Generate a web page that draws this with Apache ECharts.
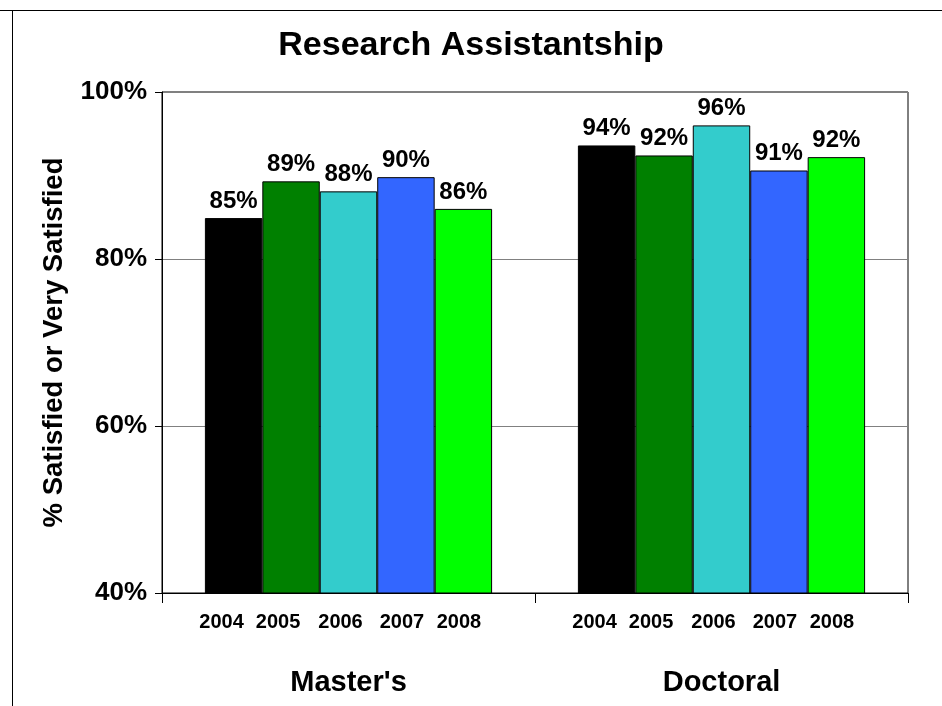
<!DOCTYPE html>
<html>
<head>
<meta charset="utf-8">
<style>html,body{margin:0;padding:0;background:#fff}#chart{width:942px;height:706px}</style>
<script src="https://cdn.jsdelivr.net/npm/echarts@6/dist/echarts.min.js"></script>
</head>
<body>
<div id="chart"></div>
<script>
var categories = ["Master's", "Doctoral"];
var years = ["2004", "2005", "2006", "2007", "2008"];
var values2004 = [84.9, 93.6];
var values2005 = [89.3, 92.4];
var values2006 = [88.1, 96.0];
var values2007 = [89.8, 90.6];
var values2008 = [86.0, 92.2];
var yTicks = [40, 60, 80, 100];
var colors = ['#000000', '#008000', '#33CCCC', '#3366FF', '#00FF00'];
var seriesValues = [values2004, values2005, values2006, values2007, values2008];
// style: horizontal nudge of the year labels under each bar (as in the original layout)
var yearLabelShift = [-12, -13, -8, -4, -4.5];

var FONT = '"Liberation Sans", Arial, sans-serif';
var chart = echarts.init(document.getElementById('chart'));

var series = years.map(function (yr, i) {
  return {
    name: yr,
    type: 'bar',
    data: seriesValues[i],
    barGap: '0%',
    barCategoryGap: '23%',
    itemStyle: { color: colors[i], borderColor: '#000', borderWidth: 1 },
    label: {
      show: true, position: 'top', distance: 5,
      fontFamily: FONT, fontWeight: 'bold', fontSize: 24, color: '#000',
      formatter: function (p) { return Math.round(p.value) + '%'; }
    },
    markPoint: {
      symbol: 'rect', symbolSize: 0,
      silent: true,
      label: {
        show: true, position: 'inside', offset: [yearLabelShift[i], 29],
        fontFamily: FONT, fontWeight: 'bold', fontSize: 20, color: '#000',
        formatter: function () { return yr; }
      },
      data: categories.map(function (c) { return { coord: [c, yTicks[0]] }; })
    }
  };
});

chart.setOption({
  animation: false,
  backgroundColor: '#fff',
  title: {
    text: 'Research Assistantship', left: 'center', top: 24,
    textStyle: { fontFamily: FONT, fontWeight: 'bold', fontSize: 34, color: '#000' }
  },
  grid: {
    left: 162, right: 34, top: 92, bottom: 113,
    show: true, borderColor: '#000', borderWidth: 1,
    outerBoundsMode: 'none', containLabel: false
  },
  xAxis: {
    type: 'category', data: categories,
    axisLine: { lineStyle: { color: '#000', width: 1 } },
    axisTick: { show: true, length: 10, interval: 0, lineStyle: { color: '#000' } },
    axisLabel: { margin: 75, fontFamily: FONT, fontWeight: 'bold', fontSize: 29, color: '#000' }
  },
  yAxis: {
    type: 'value', min: yTicks[0], max: yTicks[yTicks.length - 1], interval: 20,
    name: '% Satisfied or Very Satisfied', nameLocation: 'middle', nameGap: 94,
    nameTextStyle: { fontFamily: FONT, fontWeight: 'bold', fontSize: 27.5, color: '#000' },
    axisLine: { show: true, lineStyle: { color: '#000', width: 1 } },
    axisTick: { show: true, length: 7, lineStyle: { color: '#000' } },
    axisLabel: { margin: 15, fontFamily: FONT, fontWeight: 'bold', fontSize: 26, color: '#000', formatter: '{value}%' },
    splitLine: { show: true, lineStyle: { color: '#808080', width: 1 } }
  },
  graphic: [
    { type: 'line', shape: { x1: 0, y1: 10.5, x2: 942, y2: 10.5 }, style: { stroke: '#000', lineWidth: 1 } },
    { type: 'line', shape: { x1: 12.5, y1: 10, x2: 12.5, y2: 706 }, style: { stroke: '#000', lineWidth: 1 } }
  ],
  series: series
});
</script>
</body>
</html>
